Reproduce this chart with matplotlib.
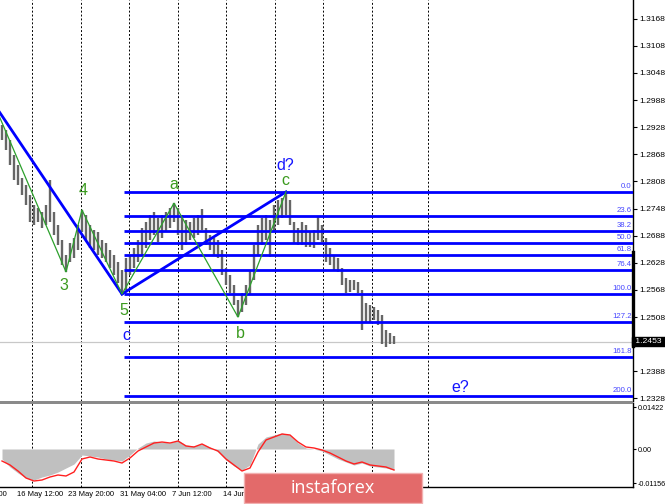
import matplotlib
matplotlib.use('Agg')
import matplotlib.pyplot as plt
import matplotlib.transforms as mtrans
from matplotlib.patches import Rectangle
import numpy as np

plt.rcParams['font.family'] = ['Liberation Sans', 'DejaVu Sans']

# ---------------- data ----------------
highs = [1.2933, 1.2922, 1.2900, 1.2867, 1.2845, 1.2816, 1.2800, 1.2778, 1.2756, 1.2749,
         1.2740, 1.2756, 1.2811, 1.2740, 1.2712, 1.2679, 1.2645, 1.2672, 1.2683, 1.2712,
         1.2745, 1.2734, 1.2712, 1.2701, 1.2696, 1.2679, 1.2672, 1.2656, 1.2645, 1.2630,
         1.2612, 1.2639, 1.2645, 1.2661, 1.2679, 1.2705, 1.2718, 1.2734, 1.2740, 1.2727,
         1.2734, 1.2740, 1.2749, 1.2760, 1.2749, 1.2734, 1.2723, 1.2718, 1.2727, 1.2734,
         1.2747, 1.2705, 1.2690, 1.2683, 1.2679, 1.2656, 1.2617, 1.2601, 1.2579, 1.2546,
         1.2561, 1.2579, 1.2612, 1.2668, 1.2712, 1.2727, 1.2734, 1.2723, 1.2756, 1.2767,
         1.2771, 1.2785, 1.2767, 1.2718, 1.2705, 1.2718, 1.2712, 1.2696, 1.2701, 1.2732,
         1.2712, 1.2683, 1.2661, 1.2645, 1.2639, 1.2617, 1.2594, 1.2590, 1.2590, 1.2586,
         1.2568, 1.2539, 1.2535, 1.2530, 1.2524, 1.2512, 1.2479, 1.2473, 1.2466]
lows = [1.2900, 1.2878, 1.2845, 1.2811, 1.2800, 1.2778, 1.2756, 1.2718, 1.2712, 1.2718,
        1.2705, 1.2712, 1.2718, 1.2690, 1.2668, 1.2623, 1.2608, 1.2630, 1.2639, 1.2656,
        1.2696, 1.2679, 1.2661, 1.2656, 1.2645, 1.2639, 1.2630, 1.2617, 1.2601, 1.2583,
        1.2559, 1.2568, 1.2601, 1.2617, 1.2630, 1.2645, 1.2661, 1.2679, 1.2690, 1.2674,
        1.2683, 1.2696, 1.2705, 1.2718, 1.2690, 1.2656, 1.2668, 1.2679, 1.2683, 1.2690,
        1.2701, 1.2668, 1.2656, 1.2645, 1.2639, 1.2601, 1.2579, 1.2561, 1.2535, 1.2508,
        1.2519, 1.2535, 1.2557, 1.2590, 1.2645, 1.2668, 1.2679, 1.2641, 1.2696, 1.2712,
        1.2727, 1.2734, 1.2712, 1.2672, 1.2668, 1.2668, 1.2663, 1.2663, 1.2661, 1.2679,
        1.2674, 1.2630, 1.2623, 1.2612, 1.2608, 1.2579, 1.2561, 1.2564, 1.2568, 1.2561,
        1.2479, 1.2497, 1.2497, 1.2502, 1.2490, 1.2448, 1.2442, 1.2448, 1.2448]
last_price = 1.2453

macd_hist = [-0.00339, -0.00610, -0.00814, -0.00983, -0.01051, -0.00949, -0.00881, -0.00780, -0.00644, -0.00509,
             -0.00203, -0.00237, -0.00271, -0.00339, -0.00373, -0.00407, -0.00203, 0.00034, 0.00203, 0.00271,
             0.00237, 0.00203, 0.00305, 0.00136, 0.00102, 0.00170, 0.00068, -0.00102, -0.00373, -0.00576,
             -0.00712, -0.00542, 0.00170, 0.00407, 0.00475, 0.00542, 0.00475, 0.00203, 0.00034, 0.0,
             -0.00068, -0.00203, -0.00339, -0.00441, -0.00542, -0.00475, -0.00576, -0.00610, -0.00644, -0.00712]
macd_signal = [-0.00407, -0.00542, -0.00746, -0.00983, -0.01085, -0.01051, -0.00949, -0.00881, -0.00915, -0.00780,
               -0.00339, -0.00271, -0.00339, -0.00373, -0.00407, -0.00475, -0.00305, -0.00068, 0.00068, 0.00203,
               0.00237, 0.00203, 0.00271, 0.00102, 0.00068, 0.00170, 0.00034, -0.00068, -0.00339, -0.00542,
               -0.00746, -0.00644, -0.00102, 0.00305, 0.00407, 0.00508, 0.00475, 0.00237, 0.00068, 0.00034,
               -0.00034, -0.00136, -0.00271, -0.00407, -0.00508, -0.00441, -0.00542, -0.00576, -0.00610, -0.00712]

# wave pivots (bar index)
wave3_idx, wave4_idx, wave5_idx = 16, 20, 30
a_idx, b_idx, c_idx = 43, 59, 71
green_start = (-3, 1.3000)   # earlier pivot (off-screen)
blue_start = (-6, 1.3032)    # earlier pivot (off-screen)

fib_levels = [0.0, 23.6, 38.2, 50.0, 61.8, 76.4, 100.0, 127.2, 161.8, 200.0]

price_ticks = [1.3168, 1.3108, 1.3048, 1.2988, 1.2928, 1.2868, 1.2808, 1.2748, 1.2688,
               1.2628, 1.2568, 1.2508, 1.2448, 1.2388, 1.2328]
hidden_tick = 1.2448   # label covered by the price box
macd_ticks = [0.01422, 0.0, -0.01156]
macd_tick_labels = ['0.01422', '0.00', '-0.01156']

grid_pos = [7.58, 19.68, 31.8, 43.93, 56.05, 68.18, 80.25, 92.38, 106.5]
date_labels = ['9 May 04:00', '16 May 12:00', '23 May 20:00', '31 May 04:00', '7 Jun 12:00',
               '14 Jun 20:00']
date_pos = [-9.2, 3.83, 16.6, 29.5, 42.4, 55.3]
e_label_pos = 114.5

# ---------------- figure ----------------
W, H = 665, 504
fig = plt.figure(figsize=(W / 100, H / 100), dpi=100)
fig.patch.set_facecolor('white')

def fx(px):
    return px / W

def fy(py):
    return 1 - py / H

ax = fig.add_axes([0, fy(401), fx(633), 401 / H])
axm = fig.add_axes([0, fy(487), fx(633), 84 / H])

XMIN, XMAX = -0.5, 157.75
for a in (ax, axm):
    a.set_xlim(XMIN, XMAX)
    a.set_facecolor('white')
    for s in ('left', 'top'):
        a.spines[s].set_visible(False)
    a.spines['right'].set_linewidth(1.0)
    a.set_xticks([])
    a.yaxis.tick_right()
    a.tick_params(axis='y', length=3, width=0.8, pad=1.5, labelsize=6.1, colors='black')
ax.spines['bottom'].set_visible(False)
axm.spines['bottom'].set_linewidth(1.0)
axm.tick_params(axis='y', labelsize=5.2, pad=0.6, length=2.5)

ax.set_ylim(1.23223, 1.32095)
ax.set_yticks(price_ticks)
ax.set_yticklabels(['' if p == hidden_tick else '%.4f' % p for p in price_ticks])

axm.set_ylim(-0.012882, 0.015594)
axm.set_yticks(macd_ticks)
axm.set_yticklabels(macd_tick_labels)

# grid
for a in (ax, axm):
    for g in grid_pos:
        a.axvline(g, color='black', lw=0.7, ls=(0, (2, 2)), zorder=0.5)

x = np.arange(len(highs))

# current price line
ax.axhline(last_price, color='#c8c8c8', lw=0.9, zorder=1)

# price bars
ax.vlines(x, lows, highs, color='#666666', lw=1.7, zorder=2)

# fibonacci levels
fib_top = highs[c_idx]
fib_bottom = lows[wave5_idx]
rng = fib_top - fib_bottom
fib_prices = [fib_top - lv / 100.0 * rng for lv in fib_levels]
ax.hlines(fib_prices, wave5_idx + 0.5, XMAX, color='#0000ff', lw=2.0, zorder=3)
btrans = mtrans.blended_transform_factory(ax.transAxes, ax.transData)
for lv, p in zip(fib_levels, fib_prices):
    ax.annotate('%.1f' % lv, xy=(1.0, p), xycoords=btrans, xytext=(-1.5, 2),
                textcoords='offset pixels', ha='right', va='bottom',
                fontsize=5.6, color='#4646ff', zorder=6)

# blue waves
ax.plot([blue_start[0], wave5_idx], [blue_start[1], lows[wave5_idx]], color='#0000ff', lw=2.0, zorder=4)
ax.plot([wave5_idx, c_idx], [lows[wave5_idx], highs[c_idx]], color='#0000ff', lw=2.0, zorder=4)

# green zigzag
gx = [green_start[0], wave3_idx, wave4_idx, wave5_idx, a_idx, b_idx, c_idx]
gy = [green_start[1], lows[wave3_idx], highs[wave4_idx], lows[wave5_idx],
      highs[a_idx], lows[b_idx], highs[c_idx]]
ax.plot(gx, gy, color='#2ca02c', lw=0.9, zorder=4.5)

GREEN = '#3a9a1e'
BLUE = '#1414ff'
def wlabel(txt, i, p, dx, dy, color):
    ax.annotate(txt, xy=(i, p), xytext=(dx, dy), textcoords='offset pixels',
                ha='center', va='baseline', fontsize=11.5, color=color, zorder=7,
                annotation_clip=False)

wlabel('3', wave3_idx, lows[wave3_idx], -2, -18, GREEN)
wlabel('4', wave4_idx, highs[wave4_idx], 1, 15, GREEN)
wlabel('5', wave5_idx, lows[wave5_idx], 2, -21, GREEN)
wlabel('c', wave5_idx, lows[wave5_idx], 4, -46, BLUE)
wlabel('a', a_idx, highs[a_idx], 0, 14, GREEN)
wlabel('b', b_idx, lows[b_idx], 2, -21, GREEN)
wlabel('c', c_idx, highs[c_idx], -1, 7, GREEN)
wlabel('d?', c_idx, highs[c_idx], -1, 22, BLUE)
wlabel('e?', e_label_pos, fib_prices[-1], 0, 4, BLUE)

# price box
ax.text(1.0, last_price, ' 1.2453 ', transform=btrans, ha='left', va='center',
        fontsize=6.1, color='white', zorder=8, clip_on=False,
        bbox=dict(boxstyle='square,pad=0.12', fc='black', ec='black'))
ax.plot([1.0, 1.0], [1.2652, 1.2444], transform=btrans, color='black', lw=2.4,
        clip_on=False, zorder=7)

# MACD pane
mx = np.arange(0, len(highs), 2)
axm.fill_between(mx, 0, macd_hist, color='#c0c0c0', lw=0, zorder=1)
axm.plot(mx, macd_signal, color='#ff2020', lw=1.0, zorder=3)

# date labels
dtrans = mtrans.blended_transform_factory(axm.transData, axm.transAxes)
for lab, p in zip(date_labels, date_pos):
    axm.text(p, -8.0 / 84, lab, transform=dtrans, ha='left', va='center',
             fontsize=5.5, color='black', clip_on=False)

# separator between panes
fig.patches.append(Rectangle((0, fy(403.5)), fx(633), 3 / H, transform=fig.transFigure,
                             fc='#8a8a8a', ec='none', zorder=5))

# watermark
fig.patches.append(Rectangle((fx(244), fy(503)), fx(178), 30 / H, transform=fig.transFigure,
                             fc='#e36a6a', ec='#f2b0b0', lw=1.0, zorder=10))
fig.text(fx(333), fy(488), 'instaforex', ha='center', va='center', color='white',
         fontsize=13, family=['Open Sans', 'DejaVu Sans'], zorder=11)

fig.savefig('out.png', dpi=100)
